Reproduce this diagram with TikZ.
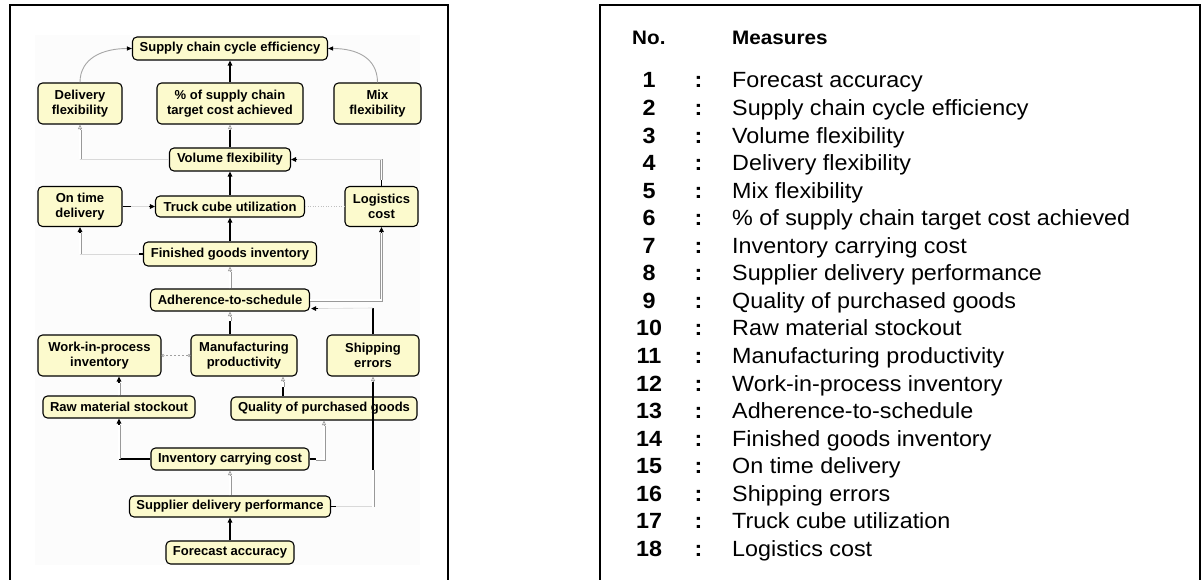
\documentclass[tikz,border=0pt]{standalone}
\usepackage{fontspec}
\setmainfont{Liberation Sans}
\newfontfamily\tabfont[FakeStretch=1.06]{Liberation Sans}
\usetikzlibrary{arrows.meta,calc}
\definecolor{boxfill}{RGB}{252,250,205}

\begin{document}
\begin{tikzpicture}[x=1pt,y=-1pt,
  box/.style={draw=black, line width=1.1pt, fill=boxfill, rounded corners=4.5pt,
    inner sep=0pt, align=center, font=\fontsize{13}{15}\selectfont\bfseries},
  frame/.style={draw=black, line width=2.4pt, line join=miter},
  blk/.style={draw=black, line width=1.2pt},
  hol/.style={draw=gray!80, line width=0.6pt, double=white, double distance=1.8pt},
  faint/.style={draw=gray!30, line width=0.6pt},
  tipb/.style={-{Triangle[length=5pt,width=4.5pt]}},
  tipo/.style={draw=gray!80, line width=0.6pt, -{Triangle[open,length=4.5pt,width=4pt]}},
  curv/.style={draw=gray!70, line width=0.9pt, -{Triangle[length=5pt,width=4pt,color=black]}},
  dsh/.style={draw=gray!75, line width=0.6pt, dash pattern=on 2pt off 2pt,
    {Circle[open,length=3pt]}-{Circle[open,length=3pt]}},
  num/.style={anchor=base, font=\tabfont\bfseries\fontsize{22}{26}\selectfont},
  txt/.style={anchor=base west, inner sep=0pt, font=\tabfont\fontsize{22}{26}\selectfont},
  head/.style={anchor=base west, inner sep=0pt, font=\tabfont\bfseries\fontsize{19.5}{23}\selectfont}
]
\useasboundingbox (0,0) rectangle (1202,580);

% panel frames
\fill[gray!2] (35,35) rectangle (420,565);
\draw[frame] (10,580) -- (10,5) -- (448,5) -- (448,580);
\draw[frame] (600,580) -- (600,5) -- (1200,5) -- (1200,580);

% measures
\node[box, minimum width=195pt, minimum height=23pt] (sce) at (230,48.5) {Supply chain cycle efficiency};
\node[box, minimum width=84pt, minimum height=41pt] (df) at (80,103.5) {Delivery\\flexibility};
\node[box, minimum width=146pt, minimum height=41pt] (pct) at (230,103.5) {\% of supply chain\\target cost achieved};
\node[box, minimum width=87pt, minimum height=41pt] (mix) at (377.5,103.5) {Mix\\flexibility};
\node[box, minimum width=121pt, minimum height=23pt] (vol) at (230,159.5) {Volume flexibility};
\node[box, minimum width=84pt, minimum height=40pt] (otd) at (80,206.5) {On time\\delivery};
\node[box, minimum width=149pt, minimum height=21pt] (tcu) at (230,206.5) {Truck cube utilization};
\node[box, minimum width=73pt, minimum height=40pt] (log) at (381.5,206.5) {Logistics\\cost};
\node[box, minimum width=173pt, minimum height=24pt] (fgi) at (230,254) {Finished goods inventory};
\node[box, minimum width=159pt, minimum height=22pt] (ats) at (230,300) {Adherence-to-schedule};
\node[box, minimum width=123pt, minimum height=41pt] (wip) at (99.5,355.5) {Work-in-process\\inventory};
\node[box, minimum width=106pt, minimum height=41pt] (mp) at (244,355.5) {Manufacturing\\productivity};
\node[box, minimum width=92pt, minimum height=41pt] (se) at (373,355.5) {Shipping\\errors};
\node[box, minimum width=152pt, minimum height=22pt] (rms) at (119,407) {Raw material stockout};
\node[box, minimum width=186pt, minimum height=23pt] (qpg) at (324,408.5) {Quality of purchased goods};
\node[box, minimum width=158pt, minimum height=22pt] (icc) at (230,459) {Inventory carrying cost};
\node[box, minimum width=201pt, minimum height=21pt] (sdp) at (230,506.5) {Supplier delivery performance};
\node[box, minimum width=128pt, minimum height=23pt] (fa) at (230,552.5) {Forecast accuracy};

% helper coordinates
\coordinate (xq) at (283,0);
\coordinate (sa) at (373,308);
\coordinate (icL) at (rms.south |- icc.west);
\coordinate (icR) at (qpg.south |- icc.east);
\coordinate (aR) at (log.south |- ats.east);
\coordinate (fL) at (otd.south |- fgi.west);
\coordinate (lT) at (log.north |- vol.east);
\coordinate (vL) at (df.south |- vol.west);
\coordinate (sB) at (se.south |- sdp.east);

% forecast -> supplier delivery -> inventory carrying cost
\draw[blk,tipb] (fa.north) -- (sdp.south);
\draw[hol] (sdp.north) -- ($(icc.south)+(0,5)$);
\draw[tipo] ($(icc.south)+(0,5)$) -- (icc.south);

% inventory carrying cost -> raw material stockout / quality
\draw[blk] (icc.west) -- (icL);
\draw[hol] (icL) -- ($(rms.south)+(0,6)$);
\draw[blk,tipb] ($(rms.south)+(0,6)$) -- (rms.south);
\draw[blk] (icc.east) -- ++(6,0);
\draw[hol] ($(icc.east)+(6,0)$) -- (icR) -- ($(qpg.south)+(0,5)$);
\draw[tipo] ($(qpg.south)+(0,5)$) -- (qpg.south);

% supplier delivery -> shipping errors
\draw[faint] (sdp.east) -- (sB);
\draw[blk] (sdp.east) -- ++(5,0);
\draw[hol] (sB) -- ++(0,-37);
\draw[blk] ($(sB)+(0,-37)$) -- ($(se.south)+(0,5)$);
\draw[tipo] ($(se.south)+(0,5)$) -- (se.south);

% raw material stockout -> work-in-process
\draw[hol] (rms.north) -- ($(rms.north |- wip.south)+(0,6)$);
\draw[blk,tipb] ($(rms.north |- wip.south)+(0,6)$) -- (rms.north |- wip.south);

% quality -> manufacturing productivity
\draw[blk] (qpg.north -| xq) -- ++(0,-9);
\draw[hol] ($(qpg.north -| xq)+(0,-9)$) -- ($(mp.south -| xq)+(0,5)$);
\draw[tipo] ($(mp.south -| xq)+(0,5)$) -- (mp.south -| xq);

% manufacturing productivity <-> work-in-process
\draw[dsh] (mp.west) -- (wip.east);

% manufacturing productivity -> adherence
\draw[blk] (ats.south |- mp.north) -- ++(0,-13);
\draw[hol] ($(ats.south |- mp.north)+(0,-13)$) -- ($(ats.south)+(0,5)$);
\draw[tipo] ($(ats.south)+(0,5)$) -- (ats.south);

% shipping errors -> adherence
\draw[blk] (se.north) -- (sa);
\draw[faint] (sa) -- ($(ats.south east)+(8,-3)$);
\draw[blk,tipb] ($(ats.south east)+(8,-3)$) -- ($(ats.south east)+(1,-3)$);

% adherence -> logistics cost / finished goods
\draw[hol] (ats.east) -- (aR) -- ($(log.south)+(0,6)$);
\draw[blk,tipb] ($(log.south)+(0,6)$) -- (log.south);
\draw[hol] (ats.north) -- ($(fgi.south)+(0,5)$);
\draw[tipo] ($(fgi.south)+(0,5)$) -- (fgi.south);

% finished goods -> truck cube / on time delivery
\draw[blk,tipb] (fgi.north) -- (tcu.south);
\draw[blk] (fgi.west) -- ++(-4,0);
\draw[faint] ($(fgi.west)+(-4,0)$) -- (fL);
\draw[hol] (fL) -- ($(otd.south)+(0,6)$);
\draw[blk,tipb] ($(otd.south)+(0,6)$) -- (otd.south);

% on time delivery -> truck cube
\draw[blk] (otd.east) -- ++(8,0);
\draw[faint] ($(otd.east)+(8,0)$) -- ($(tcu.west)+(-6,0)$);
\draw[blk,tipb] ($(tcu.west)+(-6,0)$) -- (tcu.west);

% truck cube -> logistics cost / volume flexibility
\draw[draw=gray!50, line width=0.6pt, dotted] (tcu.east) -- (log.west);
\draw[blk,tipb] (tcu.north) -- (vol.south);

% logistics cost -> volume flexibility
\draw[blk] (log.north) -- ++(0,-6);
\draw[hol] ($(log.north)+(0,-6)$) -- (lT);
\draw[faint] (lT) -- ($(vol.east)+(6,0)$);
\draw[blk,tipb] ($(vol.east)+(6,0)$) -- (vol.east);

% volume flexibility -> delivery flexibility / target cost
\draw[faint] (vol.west) -- (vL);
\draw[hol] (vL) -- ($(df.south)+(0,5)$);
\draw[tipo] ($(df.south)+(0,5)$) -- (df.south);
\draw[blk] (vol.north) -- ($(pct.south)+(0,5)$);
\draw[tipo] ($(pct.south)+(0,5)$) -- (pct.south);

% into supply chain cycle efficiency
\draw[blk,tipb] (pct.north) -- (sce.south);
\draw[curv] (df.north) .. controls +(0,-25) and +(-28,0) .. (sce.west);
\draw[curv] (mix.north) .. controls +(0,-25) and +(28,0) .. (sce.east);

% list of measures
\node[head] (hno) at (632,45) {No.};
\node[head] (hms) at (732,45) {Measures};
\foreach \i/\t in {1/Forecast accuracy, 2/Supply chain cycle efficiency,
  3/Volume flexibility, 4/Delivery flexibility, 5/Mix flexibility,
  6/\% of supply chain target cost achieved, 7/Inventory carrying cost,
  8/Supplier delivery performance, 9/Quality of purchased goods,
  10/Raw material stockout, 11/Manufacturing productivity,
  12/Work-in-process inventory, 13/Adherence-to-schedule,
  14/Finished goods inventory, 15/On time delivery, 16/Shipping errors,
  17/Truck cube utilization, 18/Logistics cost}{
  \node[num] (n\i) at (649,{88+(\i-1)*27.55}) {\i};
  \node[num] (c\i) at (698.5,{88+(\i-1)*27.55}) {:};
  \node[txt] (t\i) at (732,{88+(\i-1)*27.55}) {\t};
}
\end{tikzpicture}
\end{document}
